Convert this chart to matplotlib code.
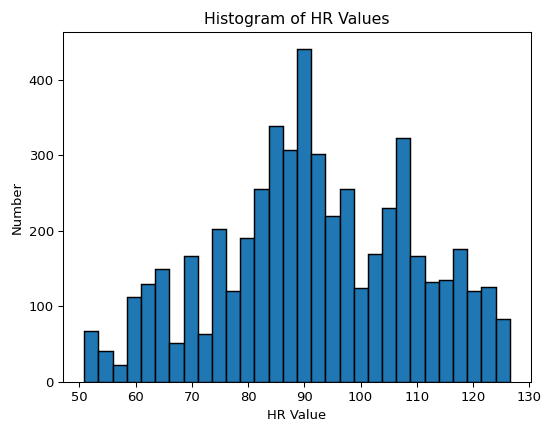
import matplotlib
matplotlib.use("Agg")
import matplotlib.pyplot as plt
import numpy as np

# histogram counts, 30 equal bins
counts = [67, 41, 23, 112, 129, 149, 51, 167, 64, 203,
          121, 190, 255, 339, 307, 441, 301, 220, 255, 124,
          170, 230, 323, 167, 132, 135, 176, 121, 126, 83]
hr_min = 50.85
hr_max = 126.55

edges = np.linspace(hr_min, hr_max, len(counts) + 1)
centers = (edges[:-1] + edges[1:]) / 2

dpi = 94.5
fig = plt.figure(figsize=(542 / dpi, 424 / dpi), dpi=dpi)
ax = fig.add_axes([63 / 542, 1 - 382 / 424, (531 - 63) / 542, (382 - 32) / 424])

ax.hist(centers, bins=edges, weights=counts, color="#1f77b4",
        edgecolor="black", linewidth=1.1)

ax.set_title("Histogram of HR Values")
ax.set_xlabel("HR Value")
ax.set_ylabel("Number")

fig.savefig("out.png", dpi=dpi)
